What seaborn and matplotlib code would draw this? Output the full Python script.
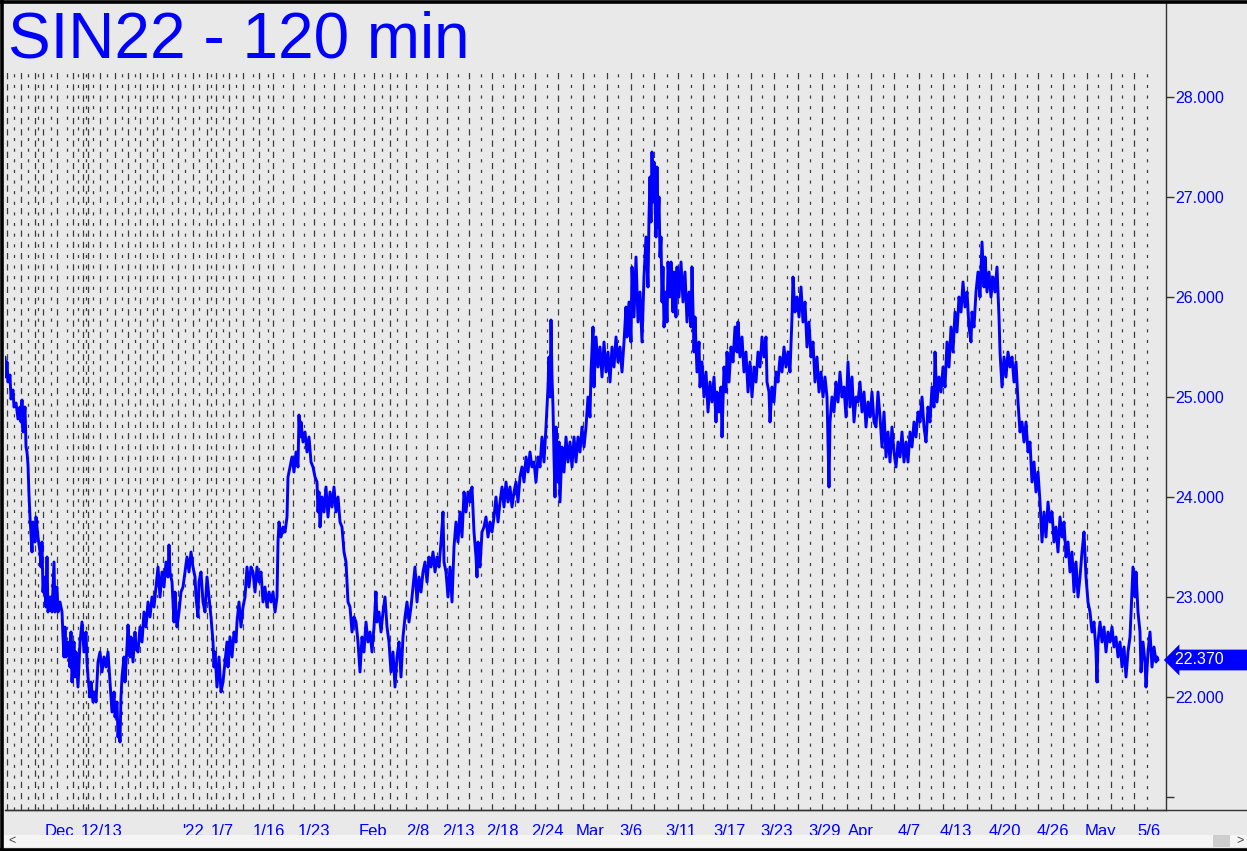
import matplotlib
matplotlib.use("Agg")
import matplotlib.pyplot as plt
import pandas as pd
import seaborn as sns
from matplotlib.lines import Line2D
from matplotlib.patches import Rectangle
from matplotlib.transforms import blended_transform_factory

title = "SIN22 - 120 min"

# bar number (120-min bars, chart order) and traded price
bars = [
    5, 6, 7, 8, 10, 11, 13, 14, 16, 18,
    20, 21, 22, 23, 25, 26, 27, 28, 29, 30,
    32, 33, 35, 36, 38, 40, 41, 42, 43, 44,
    46, 47, 48, 50, 52, 54, 55, 57, 58, 60,
    62, 63, 64, 65, 66, 68, 70, 71, 72, 74,
    75, 76, 78, 80, 82, 84, 86, 87, 88, 90,
    91, 93, 95, 96, 98, 100, 102, 104, 106, 108,
    110, 112, 114, 115, 117, 118, 119, 120, 121, 122,
    124, 125, 127, 128, 130, 131, 133, 135, 136, 138,
    140, 142, 144, 146, 148, 150, 152, 154, 156, 158,
    160, 162, 164, 166, 168, 169, 170, 172, 174, 175,
    177, 179, 181, 183, 185, 187, 189, 191, 193, 195,
    196, 198, 199, 201, 203, 205, 207, 209, 211, 213,
    214, 215, 217, 219, 221, 223, 225, 227, 228, 230,
    232, 234, 236, 237, 239, 241, 243, 245, 247, 249,
    251, 253, 255, 257, 259, 261, 263, 265, 267, 269,
    271, 273, 275, 277, 278, 279, 281, 283, 285, 287,
    288, 290, 292, 294, 296, 298, 299, 300, 301, 303,
    305, 307, 309, 311, 313, 315, 317, 318, 319, 320,
    322, 324, 326, 328, 330, 332, 334, 336, 338, 340,
    342, 344, 346, 348, 350, 352, 354, 356, 358, 360,
    362, 364, 366, 368, 370, 372, 374, 376, 377, 379,
    381, 383, 385, 387, 389, 391, 393, 395, 397, 399,
    401, 403, 405, 407, 409, 411, 413, 415, 417, 419,
    421, 423, 425, 427, 429, 431, 433, 435, 437, 439,
    441, 443, 444, 446, 448, 450, 452, 454, 456, 458,
    460, 462, 464, 466, 468, 470, 472, 474, 476, 477,
    478, 480, 482, 484, 486, 488, 490, 492, 494, 496,
    498, 500, 502, 504, 506, 508, 510, 512, 514, 516,
    518, 520, 522, 524, 526, 528, 530, 532, 534, 536,
    538, 540, 542, 544, 546, 548, 549, 550, 551, 552,
    553, 554, 555, 556, 557, 558, 559, 560, 562, 564,
    566, 568, 570, 572, 574, 576, 578, 580, 582, 584,
    586, 588, 590, 591, 593, 594, 596, 598, 600, 602,
    604, 606, 608, 610, 612, 614, 616, 618, 620, 622,
    624, 626, 627, 629, 631, 632, 634, 636, 638, 640,
    642, 644, 646, 648, 649, 650, 651, 652, 653, 654,
    656, 657, 658, 659, 660, 661, 662, 663, 664, 666,
    667, 668, 670, 671, 673, 674, 676, 677, 679, 681,
    683, 685, 687, 689, 691, 692, 694, 695, 697, 699,
    700, 702, 704, 706, 708, 710, 712, 714, 716, 717,
    719, 721, 722, 724, 726, 727, 729, 731, 733, 735,
    737, 738, 740, 742, 744, 746, 748, 750, 752, 754,
    756, 758, 760, 762, 764, 766, 767, 769, 770, 772,
    774, 776, 778, 780, 782, 784, 786, 788, 790, 792,
    793, 795, 797, 799, 801, 803, 805, 807, 809, 811,
    813, 815, 817, 819, 821, 823, 825, 827, 828, 829,
    830, 832, 834, 836, 838, 840, 842, 844, 846, 848,
    850, 852, 854, 856, 858, 860, 862, 864, 866, 868,
    870, 872, 874, 876, 878, 880, 882, 884, 886, 888,
    890, 892, 894, 896, 898, 900, 902, 904, 906, 908,
    910, 912, 914, 916, 918, 920, 922, 924, 926, 928,
    930, 932, 934, 935, 937, 939, 941, 943, 945, 947,
    949, 951, 953, 955, 957, 959, 961, 963, 965, 967,
    969, 971, 972, 974, 976, 978, 980, 982, 984, 985,
    987, 989, 991, 993, 995, 997, 999, 1000, 1002, 1004,
    1006, 1008, 1010, 1012, 1014, 1016, 1018, 1020, 1022, 1024,
    1026, 1028, 1030, 1032, 1034, 1036, 1038, 1040, 1042, 1044,
    1046, 1048, 1050, 1052, 1054, 1056, 1058, 1060, 1062, 1064,
    1066, 1068, 1070, 1072, 1074, 1076, 1078, 1080, 1082, 1084,
    1086, 1088, 1090, 1092, 1094, 1096, 1097, 1098, 1100, 1102,
    1104, 1106, 1108, 1110, 1112, 1114, 1116, 1118, 1120, 1122,
    1124, 1126, 1128, 1130, 1132, 1133, 1135, 1136, 1138, 1140,
    1141, 1143, 1145, 1146, 1148, 1150, 1152, 1154, 1156, 1157, 1158,
]

price = [
    25.40, 25.20, 25.35, 25.15, 25.22, 24.98, 25.07, 24.90, 24.94, 24.78,
    24.90, 24.75, 24.97, 24.65, 24.90, 24.50, 24.45, 24.32, 24.02, 23.80,
    23.45, 23.75, 23.55, 23.80, 23.60, 23.45, 23.30, 23.55, 23.05, 23.20,
    22.90, 23.40, 22.85, 23.00, 22.85, 23.35, 22.85, 23.10, 22.85, 22.95,
    22.85, 22.60, 22.40, 22.70, 22.40, 22.55, 22.30, 22.65, 22.15, 22.55,
    22.20, 22.45, 22.10, 22.55, 22.75, 22.45, 22.65, 22.35, 22.20, 22.00,
    22.15, 21.95, 22.05, 21.95, 22.35, 22.45, 22.25, 22.40, 22.30, 22.45,
    22.15, 21.85, 22.05, 21.80, 21.95, 21.60, 21.75, 21.55, 22.00, 22.20,
    22.40, 22.15, 22.50, 22.72, 22.40, 22.60, 22.35, 22.65, 22.50, 22.45,
    22.70, 22.55, 22.85, 22.70, 22.95, 22.80, 23.00, 22.90, 23.10, 23.30,
    23.00, 23.25, 23.10, 23.35, 23.20, 23.52, 23.25, 23.15, 22.75, 23.05,
    22.70, 22.85, 23.05, 23.10, 23.25, 23.40, 23.25, 23.45, 23.30, 23.20,
    23.00, 22.80, 23.15, 23.25, 22.95, 22.85, 23.20, 23.00, 22.80, 22.55,
    22.30, 22.45, 22.10, 22.40, 22.05, 22.15, 22.35, 22.55, 22.30, 22.60,
    22.40, 22.65, 22.55, 22.75, 22.95, 22.70, 22.90, 23.00, 23.30, 23.10,
    23.30, 23.25, 23.05, 23.30, 23.15, 23.25, 22.95, 23.10, 22.90, 23.05,
    22.95, 23.05, 22.85, 23.00, 23.55, 23.75, 23.60, 23.70, 23.65, 23.80,
    24.20, 24.30, 24.40, 24.25, 24.45, 24.30, 24.82, 24.60, 24.75, 24.55,
    24.65, 24.45, 24.60, 24.35, 24.30, 24.20, 24.15, 23.85, 24.05, 23.70,
    24.00, 23.85, 24.10, 23.80, 24.05, 23.90, 24.10, 23.85, 24.00, 23.75,
    23.70, 23.45, 23.35, 22.95, 22.90, 22.65, 22.80, 22.75, 22.55, 22.25,
    22.60, 22.45, 22.75, 22.55, 22.65, 22.45, 22.70, 23.05, 22.75, 22.85,
    22.65, 22.85, 23.00, 22.70, 22.55, 22.25, 22.45, 22.10, 22.40, 22.55,
    22.20, 22.60, 22.80, 22.95, 22.75, 22.90, 23.10, 23.30, 22.95, 23.20,
    23.05, 23.25, 23.35, 23.15, 23.40, 23.30, 23.45, 23.25, 23.40, 23.30,
    23.55, 23.85, 23.35, 23.25, 23.00, 23.30, 22.95, 23.50, 23.75, 23.55,
    23.85, 23.60, 24.05, 23.85, 24.05, 23.95, 24.10, 23.65, 23.40, 23.20,
    23.55, 23.30, 23.65, 23.70, 23.80, 23.60, 23.75, 23.65, 23.80, 24.00,
    23.75, 23.95, 24.10, 23.90, 24.15, 23.95, 24.10, 23.90, 24.05, 24.15,
    23.95, 24.20, 24.30, 24.15, 24.40, 24.25, 24.45, 24.30, 24.35, 24.15,
    24.40, 24.30, 24.60, 24.35, 24.70, 25.10, 25.40, 25.00, 25.77, 25.20,
    24.90, 24.40, 24.00, 24.70, 24.35, 24.15, 24.55, 23.95, 24.50, 24.25,
    24.60, 24.35, 24.55, 24.30, 24.60, 24.35, 24.60, 24.45, 24.70, 24.50,
    24.70, 25.00, 24.80, 25.25, 25.70, 25.10, 25.60, 25.30, 25.50, 25.20,
    25.55, 25.25, 25.45, 25.15, 25.50, 25.30, 25.60, 25.35, 25.50, 25.25,
    25.55, 25.90, 25.60, 25.95, 25.55, 26.30, 25.80, 26.40, 25.75, 26.05,
    25.55, 26.20, 26.60, 26.10, 26.80, 27.20, 26.75, 27.45, 26.95, 27.35,
    26.60, 27.30, 26.70, 27.00, 26.40, 26.60, 25.95, 26.30, 25.70, 26.05,
    25.75, 26.35, 26.00, 26.35, 25.85, 26.25, 25.80, 26.30, 26.00, 26.35,
    25.95, 26.25, 25.75, 26.05, 25.70, 26.30, 25.45, 25.80, 25.25, 25.55,
    25.10, 25.35, 25.00, 25.25, 24.85, 25.15, 24.95, 25.20, 24.75, 25.05,
    24.85, 25.10, 24.60, 25.30, 25.05, 25.45, 25.15, 25.50, 25.35, 25.70,
    25.45, 25.75, 25.40, 25.60, 25.25, 25.45, 25.05, 25.35, 25.00, 25.30,
    25.15, 25.45, 25.30, 25.60, 25.40, 25.60, 25.15, 25.05, 24.75, 25.10,
    24.95, 25.25, 25.15, 25.40, 25.25, 25.50, 25.30, 25.45, 25.25, 25.80,
    26.20, 25.85, 26.00, 25.80, 26.10, 25.75, 25.95, 25.50, 25.75, 25.40,
    25.55, 25.15, 25.40, 25.05, 25.25, 25.00, 25.20, 25.00, 24.55, 24.10,
    24.75, 25.00, 24.85, 25.15, 24.95, 25.25, 25.00, 25.10, 24.80, 25.35,
    24.90, 25.20, 24.75, 25.00, 24.95, 25.15, 24.85, 25.05, 24.70, 24.95,
    24.80, 25.05, 24.75, 24.70, 25.05, 24.80, 24.50, 24.85, 24.40, 24.65,
    24.35, 24.70, 24.45, 24.30, 24.55, 24.40, 24.65, 24.35, 24.55, 24.35,
    24.65, 24.50, 24.75, 24.60, 24.85, 24.75, 25.00, 24.70, 24.55, 24.90,
    24.75, 25.10, 24.90, 25.45, 24.95, 25.20, 25.05, 25.30, 25.10, 25.55,
    25.30, 25.70, 25.45, 25.85, 25.65, 26.00, 25.85, 26.15, 25.90, 26.05,
    25.70, 25.55, 25.85, 25.70, 26.05, 26.25, 26.00, 26.55, 26.10, 26.40,
    26.05, 26.25, 26.00, 26.20, 26.05, 26.30, 25.80, 25.45, 25.10, 25.40,
    25.20, 25.45, 25.30, 25.40, 25.15, 25.35, 24.95, 24.65, 24.75, 24.55,
    24.75, 24.45, 24.55, 24.15, 24.35, 24.05, 24.25, 23.95, 23.55, 23.85,
    23.60, 23.95, 23.75, 23.85, 23.55, 23.70, 23.45, 23.80, 23.60, 23.75,
    23.40, 23.55, 23.25, 23.45, 23.05, 23.35, 23.00, 23.20, 23.45, 23.65,
    23.20, 22.95, 22.85, 22.65, 22.75, 22.45, 22.15, 22.55, 22.75, 22.55,
    22.70, 22.45, 22.65, 22.55, 22.70, 22.50, 22.60, 22.40, 22.55, 22.30,
    22.50, 22.20, 22.45, 22.60, 23.05, 23.30, 23.00, 23.25, 22.85, 22.65,
    22.25, 22.55, 22.35, 22.10, 22.45, 22.65, 22.30, 22.50, 22.35, 22.40, 22.37,
]

# session separators (dashed verticals)
grid_bars = [
    7, 14, 21, 28, 35, 38, 43, 51, 57, 67, 73, 78, 83, 86, 88, 93, 100, 107,
    115, 122, 128, 135, 140, 147, 153, 157, 163, 172, 178, 185, 193, 199, 207,
    211, 216, 223, 229, 236, 243, 253, 259, 268, 273, 283, 293, 304, 314, 324,
    334, 344, 354, 364, 374, 382, 390, 397, 406, 416, 427, 437, 447, 458, 469,
    481, 492, 503, 515, 523, 535, 547, 558, 571, 583, 594, 607, 618, 631, 643,
    654, 667, 678, 691, 703, 714, 727, 738, 751, 762, 774, 787, 798, 810, 822,
    834, 847, 858, 871, 883, 894, 907, 919, 931, 943, 954, 967, 979, 991, 1003,
    1015, 1027, 1038, 1051, 1063, 1074, 1087, 1098, 1111, 1122, 1134, 1147,
]

tick_bars = [
    28, 59, 82, 102, 124, 147, 170, 193, 222, 245, 269, 290, 314, 336, 373,
    397, 418, 437, 458, 482, 502, 526, 547, 569, 590, 608, 631, 656, 681, 705,
    729, 753, 777, 801, 825, 861, 885, 909, 933, 956, 979, 1005, 1029, 1053,
    1077, 1100, 1125, 1149,
]
tick_text = [
    "", "Dec", "", "12/13", "", "", "", "'22", "1/7", "", "1/16", "", "1/23",
    "", "Feb", "", "2/8", "", "2/13", "", "2/18", "", "2/24", "", "Mar", "",
    "3/6", "", "3/11", "", "3/17", "", "3/23", "", "3/29", "Apr", "", "4/7",
    "", "4/13", "", "4/20", "", "4/26", "", "May", "", "5/6",
]

price_levels = [21, 22, 23, 24, 25, 26, 27, 28]
last_price = 22.37

BLUE = "#0000ff"
BG = "#e9e9e9"
W, H = 1247, 851

sns.set_style("white", {"axes.facecolor": BG, "figure.facecolor": BG})
plt.rcParams["font.family"] = ["Liberation Sans", "DejaVu Sans"]

fig = plt.figure(figsize=(W / 100, H / 100), dpi=100, facecolor=BG)
ax = fig.add_axes([5 / W, 41 / H, (1166 - 5) / W, (848 - 41) / H])
ax.set_facecolor(BG)

ymin, ymax = 20.87, 28.94
ax.vlines(grid_bars[::2], ymin, 28.25, colors="#3c3c3c", lw=0.9,
          linestyles=(0, (5, 4)))
ax.vlines(grid_bars[1::2], ymin, 28.25, colors="#3c3c3c", lw=0.9,
          linestyles=(0, (2.5, 6)))

df = pd.DataFrame({"bar": bars, "price": price})
sns.lineplot(data=df, x="bar", y="price", ax=ax, color=BLUE, lw=2.1,
             estimator=None, sort=False)

ax.set_xlim(5, 1166)
ax.set_ylim(ymin, ymax)
ax.set_xlabel("")
ax.set_ylabel("")

ax.yaxis.tick_right()
ax.set_yticks(price_levels, ["" if v == 21 else f"{v:.3f}" for v in price_levels])
ax.set_xticks(tick_bars, tick_text)
ax.tick_params(axis="y", direction="out", length=6, width=1, color="#333333",
               labelcolor=BLUE, labelsize=11.5, pad=1)
ax.tick_params(axis="x", direction="out", length=6, width=1, color="#333333",
               labelcolor=BLUE, labelsize=12, pad=4)

for side in ["left", "top"]:
    ax.spines[side].set_visible(False)
for side in ["right", "bottom"]:
    ax.spines[side].set_color("#333333")
    ax.spines[side].set_linewidth(1)

# bottom axis line runs on under the price scale
fig.add_artist(Line2D([5 / W, 1], [41 / H, 41 / H], color="#333333", lw=1))

# last price flag
tr = blended_transform_factory(ax.transAxes, ax.transData)
ax.text(1 + 9 / 1161, last_price, f"{last_price:.3f}     ", transform=tr,
        ha="left", va="center", color="white", fontsize=11.5, clip_on=False,
        bbox=dict(boxstyle="larrow,pad=0.18", fc=BLUE, ec="none"))

fig.text(8 / W, 1 - 57 / H, title, fontsize=46, color=BLUE, ha="left",
         va="baseline")

# scroll bar
fig.patches.append(Rectangle((4 / W, 4 / H), 1 - 4 / W, 12 / H,
                             transform=fig.transFigure, fc="#f5f5f5", ec="none"))
fig.patches.append(Rectangle((1213 / W, 4 / H), 17 / W, 12 / H,
                             transform=fig.transFigure, fc="#cdcdcd", ec="none"))
fig.text(12 / W, 10 / H, "<", fontsize=9, color="#444444", ha="center", va="center")
fig.text(1240 / W, 10 / H, ">", fontsize=9, color="#444444", ha="center", va="center")

# window frame
frame = dict(color="black", lw=2.6, transform=fig.transFigure)
fig.add_artist(Line2D([1.5 / W, 1.5 / W], [0, 1], **frame))
fig.add_artist(Line2D([0, 1], [1 - 1.5 / H, 1 - 1.5 / H], **frame))
fig.add_artist(Line2D([0, 1], [1.5 / H, 1.5 / H], **frame))

fig.savefig("out.png", dpi=100, facecolor=BG)
plt.close(fig)
